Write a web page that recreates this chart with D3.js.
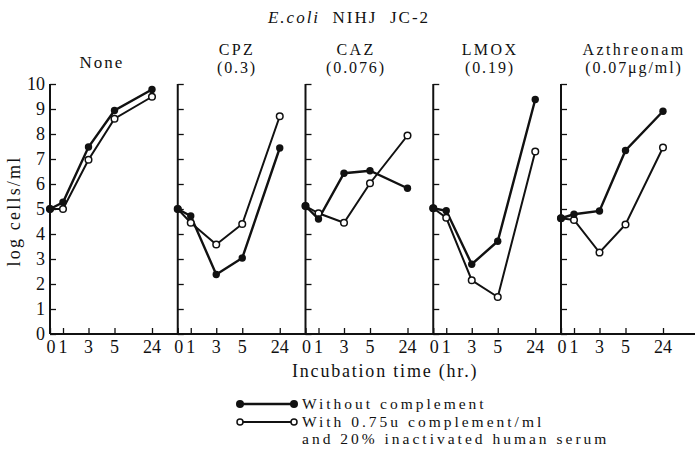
<!DOCTYPE html>
<html>
<head>
<meta charset="utf-8">
<script src="https://cdn.jsdelivr.net/npm/d3@7/dist/d3.min.js"></script>
<style>
  body { margin: 0; background: #fff; }
  text { font-family: "Liberation Serif", "DejaVu Serif", serif; fill: #111; }
</style>
</head>
<body>
<div id="chart"></div>
<script>
// hours sampled, same for every panel
var times = [0, 1, 3, 5, 24];
var drugs = ["None", "CPZ", "CAZ", "LMOX", "Azthreonam"];
var concs = ["", "(0.3)", "(0.076)", "(0.19)", "(0.07\u03bcg/ml)"];
var yTicks = [0, 1, 2, 3, 4, 5, 6, 7, 8, 9, 10];

// log cells/ml, one row per panel
var without = [
  [5.0, 5.27, 7.48, 8.94, 9.78],
  [5.0, 4.72, 2.38, 3.04, 7.44],
  [5.12, 4.6, 6.43, 6.53, 5.83],
  [5.03, 4.93, 2.79, 3.71, 9.38],
  [4.63, 4.79, 4.92, 7.34, 8.91]
];
var withComp = [
  [5.0, 5.0, 6.97, 8.61, 9.49],
  [5.0, 4.45, 3.58, 4.40, 8.71],
  [5.12, 4.83, 4.45, 6.03, 7.94],
  [5.03, 4.65, 2.15, 1.48, 7.30],
  [4.63, 4.56, 3.26, 4.38, 7.46]
];

var w = 695, h = 450;
var svg = d3.select("#chart").append("svg")
  .attr("width", w)
  .attr("height", h)
  .style("background", "#fff");

var y = d3.scaleLinear().domain([0, 10]).range([334, 84]);
// the time axis is stretched unevenly in the original
var x = d3.scaleLinear().domain(times).range([0, 13, 38.5, 64.5, 102]);
var panel = d3.scaleLinear().domain([0, 4]).range([50, 561]);
var titleCx = [102, 237, 356, 490, 634];

var ink = "#111";

// title
var t = svg.append("text")
  .attr("x", 349).attr("y", 23)
  .attr("text-anchor", "middle")
  .attr("font-size", 17)
  .style("letter-spacing", "2px");
t.append("tspan").attr("font-style", "italic").text("E.coli");
t.append("tspan").text("\u00a0\u00a0NIHJ\u00a0\u00a0JC-2");

// bottom axis line across all panels
svg.append("line")
  .attr("x1", 50).attr("x2", 695)
  .attr("y1", y(0)).attr("y2", y(0))
  .attr("stroke", ink).attr("stroke-width", 2);

var line = d3.line()
  .x(function(d, i) { return x(times[i]); })
  .y(function(d) { return y(d); });

drugs.forEach(function(name, p) {
  var g = svg.append("g").attr("transform", "translate(" + panel(p) + ",0)");

  // y axis, ticks pointing inward
  var ya = d3.axisRight(y).tickValues(yTicks).tickSize(6).tickFormat("");
  g.append("g").call(ya).call(function(s) {
    s.select(".domain").attr("d", "M0," + y(0) + "V" + y(10))
      .attr("stroke", ink).attr("stroke-width", 2);
    s.selectAll(".tick line").attr("stroke", ink).attr("stroke-width", 1.3);
  });

  if (p === 0) {
    g.selectAll(".ylab").data(yTicks).enter().append("text")
      .attr("x", -5)
      .attr("y", function(d) { return y(d) + 6; })
      .attr("text-anchor", "end")
      .attr("font-size", 18)
      .text(function(d) { return d; });
  }

  // x ticks upward
  var xa = d3.axisTop(x).tickValues(times).tickSize(6).tickFormat("");
  g.append("g").attr("transform", "translate(0," + y(0) + ")").call(xa).call(function(s) {
    s.select(".domain").remove();
    s.selectAll(".tick line").attr("stroke", ink).attr("stroke-width", 1.3);
  });
  g.selectAll(".xlab").data(times).enter().append("text")
    .attr("x", function(d) { return x(d) + (d === 0 ? 1 : 0); })
    .attr("y", 353)
    .attr("text-anchor", "middle")
    .attr("font-size", 18)
    .text(function(d) { return d; });

  // panel heading
  var tx = titleCx[p] - panel(p);
  if (concs[p] === "") {
    g.append("text").attr("x", tx).attr("y", 68)
      .attr("text-anchor", "middle").attr("font-size", 17)
      .style("letter-spacing", "2px").text(name);
  } else {
    g.append("text").attr("x", tx).attr("y", 55)
      .attr("text-anchor", "middle").attr("font-size", 16)
      .style("letter-spacing", "2.4px").text(name);
    g.append("text").attr("x", tx).attr("y", 73)
      .attr("text-anchor", "middle").attr("font-size", 16)
      .style("letter-spacing", "1.9px").text(concs[p]);
  }

  // series: open first, filled on top
  g.append("path").datum(withComp[p]).attr("d", line)
    .attr("fill", "none").attr("stroke", ink).attr("stroke-width", 2);
  g.append("path").datum(without[p]).attr("d", line)
    .attr("fill", "none").attr("stroke", ink).attr("stroke-width", 2.4);

  g.selectAll(".op").data(withComp[p]).enter().append("circle")
    .attr("cx", function(d, i) { return x(times[i]); })
    .attr("cy", function(d) { return y(d); })
    .attr("r", 3.3)
    .attr("fill", "#fff").attr("stroke", ink).attr("stroke-width", 1.5);
  g.selectAll(".fp").data(without[p]).enter().append("circle")
    .attr("cx", function(d, i) { return x(times[i]); })
    .attr("cy", function(d) { return y(d); })
    .attr("r", 3.7)
    .attr("fill", ink);
});

// y label
svg.append("text")
  .attr("transform", "translate(20,211) rotate(-90)")
  .attr("text-anchor", "middle")
  .attr("font-size", 18)
  .style("letter-spacing", "2.2px")
  .text("log cells/ml");

// x label
svg.append("text")
  .attr("x", 292).attr("y", 377)
  .attr("font-size", 18)
  .style("letter-spacing", "1.8px")
  .text("Incubation time (hr.)");

// legend
var lg = svg.append("g");
lg.append("line").attr("x1", 240).attr("x2", 294).attr("y1", 404).attr("y2", 404)
  .attr("stroke", ink).attr("stroke-width", 2.4);
lg.selectAll(".lf").data([240, 294]).enter().append("circle")
  .attr("cx", function(d) { return d; }).attr("cy", 404).attr("r", 4).attr("fill", ink);
lg.append("line").attr("x1", 240).attr("x2", 294).attr("y1", 422).attr("y2", 422)
  .attr("stroke", ink).attr("stroke-width", 2);
lg.selectAll(".lo").data([240, 294]).enter().append("circle")
  .attr("cx", function(d) { return d; }).attr("cy", 422).attr("r", 3)
  .attr("fill", "#fff").attr("stroke", ink).attr("stroke-width", 1.5);

var legendLines = ["Without complement", "With 0.75u complement/ml", "and 20% inactivated human serum"];
lg.selectAll(".lt").data(legendLines).enter().append("text")
  .attr("x", 302)
  .attr("y", function(d, i) { return 409 + i * 17.5; })
  .attr("font-size", 15.5)
  .style("letter-spacing", "3px")
  .text(function(d) { return d; });
</script>
</body>
</html>
